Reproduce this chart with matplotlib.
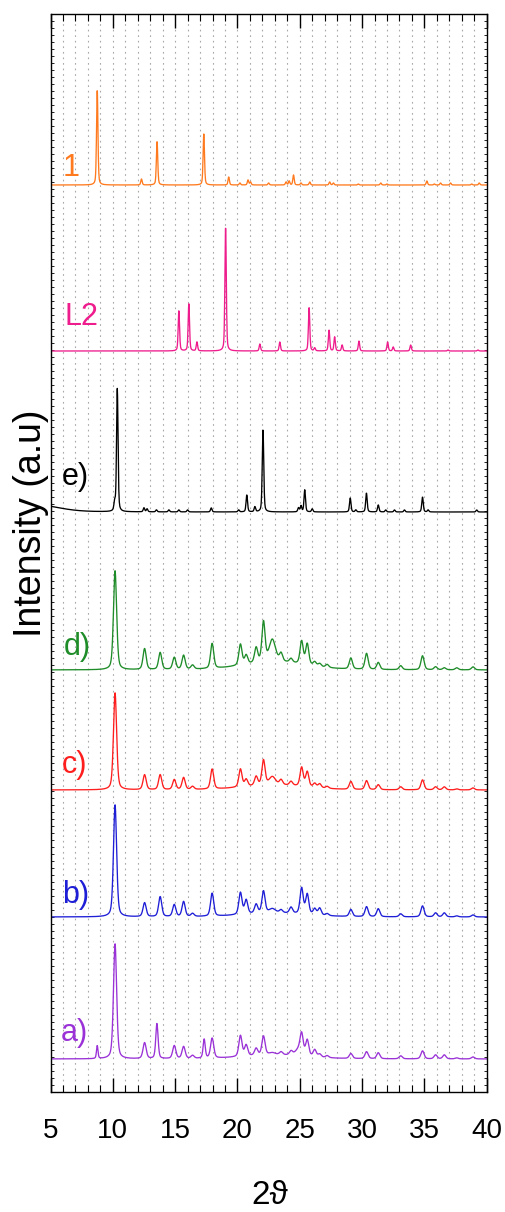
import numpy as np
import matplotlib
matplotlib.use("Agg")
import matplotlib.pyplot as plt
from matplotlib.ticker import MultipleLocator

plt.rcParams['font.family'] = ['Liberation Sans', 'DejaVu Sans']

# ---- diffraction data: peak positions (2theta), heights (a.u.), stacking offsets ----
two_theta = np.arange(5.0, 40.0001, 0.02)

# compound 1
pos_1 = [8.75, 12.3, 13.55, 17.3, 19.3, 20.2, 20.85, 21.05, 22.5, 23.9, 24.15, 24.5, 25.1,
         25.8, 27.4, 27.7, 29.7, 31.5, 32.0, 35.2, 35.8, 36.3, 37.1, 38.8, 39.4]
amp_1 = [96, 6, 44, 51, 8, 2, 5, 3, 2, 3, 4, 10, 2, 3, 3, 2, 1, 2, 1, 4, 1, 2, 2, 1, 2]
wid_1 = 0.13
off_1 = 907

# ligand L2
pos_L2 = [15.3, 16.1, 16.75, 19.05, 21.8, 23.4, 25.75, 26.2, 27.35, 27.8, 28.4, 29.75,
          32.05, 32.5, 33.9, 36.9, 39.3]
amp_L2 = [40, 47, 9, 125, 7, 9, 44, 3, 21, 14, 6, 10, 9, 4, 6, 1, 1]
wid_L2 = 0.13
off_L2 = 741

# sample e
pos_e = [4.0, 10.15, 10.36, 12.5, 12.75, 13.5, 14.5, 15.3, 16.0, 17.9, 20.1, 20.75, 21.4,
         22.05, 24.9, 25.1, 25.4, 26.0, 29.05, 29.5, 30.35, 31.3, 31.9, 32.6, 33.4,
         34.85, 35.3, 39.2]
amp_e = [7, 8, 123, 4, 3, 2, 2, 2, 2, 4, 2, 17, 5, 83, 4, 6, 22, 3, 14, 2, 19, 7, 2, 2, 2,
         15, 2, 2]
wid_e = [4.0] + [0.14] * (len(pos_e) - 1)
off_e = 580

# samples a-d share most reflections (last entry: broad amorphous hump)
pos_common = [10.18, 12.55, 13.8, 14.93, 15.68, 16.4, 17.97, 20.24, 20.7, 21.5, 22.09,
              22.8, 23.5, 24.3, 25.15, 25.6, 26.2, 26.6, 27.2, 29.1, 30.36, 31.3, 33.1,
              34.85, 35.9, 36.6, 37.6, 38.9, 23.0]
wid_common = ([0.3] * 11 + [0.6] + [0.3] * 16) + [6.0]

amp_d = [99, 21, 17, 12, 14, 4, 25, 21, 9, 15, 40, 22, 8, 4, 23, 21, 4, 3, 3, 11, 16,
         7, 4, 14, 3, 2, 2, 3, 8]
off_d = 422

amp_c = [97, 15, 15, 10, 12, 3, 20, 18, 7, 9, 25, 8, 5, 4, 19, 15, 4, 4, 2, 8, 9, 5, 3,
         10, 3, 3, 1, 2, 5]
off_c = 302

amp_b = [112, 14, 20, 12, 15, 3, 23, 22, 14, 9, 22, 4, 3, 6, 26, 20, 6, 7, 2, 7, 10, 8,
         3, 11, 4, 4, 1, 2, 4]
off_b = 175

pos_a = pos_common + [8.75, 13.54, 17.33, 24.9]
wid_a = wid_common + [0.14, 0.22, 0.2, 0.6]
amp_a = [115, 16, 0, 13, 12, 3, 20, 21, 11, 7, 19, 2, 3, 4, 20, 16, 7, 3, 2, 5, 7, 6, 3,
         8, 4, 4, 1, 2, 4, 13, 35, 19, 6]
off_a = 33

labels = ['1', 'L2', 'e)', 'd)', 'c)', 'b)', 'a)']
colors = ['#FF7A1E', '#EE1C8C', '#000000', '#1E8C28', '#FF1E1E', '#1E1ED7', '#9A32D7']
label_x = [5.98, 6.16, 5.9, 6.1, 5.92, 5.92, 5.8]
label_y = [924, 775, 615, 445, 327, 197, 59]


def pattern(pos, amp, wid):
    """Sum of pseudo-Voigt reflections."""
    wid = np.broadcast_to(np.asarray(wid, float), (len(pos),))
    y = np.zeros_like(two_theta)
    for p, a, w in zip(pos, amp, wid):
        g = np.exp(-4 * np.log(2) * ((two_theta - p) / w) ** 2)
        l = 1.0 / (1.0 + 4 * ((two_theta - p) / w) ** 2)
        y += a * (0.6 * g + 0.4 * l)
    return y


traces = [
    (pos_1, amp_1, wid_1, off_1),
    (pos_L2, amp_L2, wid_L2, off_L2),
    (pos_e, amp_e, wid_e, off_e),
    (pos_common, amp_d, wid_common, off_d),
    (pos_common, amp_c, wid_common, off_c),
    (pos_common, amp_b, wid_common, off_b),
    (pos_a, amp_a, wid_a, off_a),
]

fig = plt.figure(figsize=(5.06, 12.12), dpi=100)
ax = fig.add_axes([50.5 / 506, 120 / 1212, 436.2 / 506, 1078 / 1212])

for (pos, amp, wid, off), col, lab, lx, ly in zip(traces, colors, labels, label_x, label_y):
    ax.plot(two_theta, off + pattern(pos, amp, wid), color=col, lw=0.95)
    ax.text(lx, ly, lab, color=col, fontsize=22, ha='left', va='center')

ax.set_xlim(5, 40)
ax.set_ylim(0, 1078)

ax.xaxis.set_major_locator(MultipleLocator(5))
ax.xaxis.set_minor_locator(MultipleLocator(1))
ax.yaxis.set_major_locator(MultipleLocator(1000))
ax.yaxis.set_minor_locator(MultipleLocator(7))
ax.tick_params(axis='x', which='both', direction='in', top=True, bottom=True,
               labelsize=20, pad=19)
ax.tick_params(axis='x', which='major', length=10, width=1.0)
ax.tick_params(axis='x', which='minor', length=5, width=0.8)
ax.tick_params(axis='y', which='both', direction='in', left=True, right=True,
               labelleft=False, length=2, width=0.6)
ax.tick_params(axis='y', which='major', length=0)

ax.grid(True, axis='x', which='both', color='#A8A8A8', lw=0.8,
        linestyle=(0, (1.5, 3.5)))
for s in ax.spines.values():
    s.set_linewidth(1.0)

fig.text(31 / 506, 1 - 523 / 1212, 'Intensity (a.u)', rotation=90,
         ha='center', va='center', fontsize=27)
fig.text(270 / 506, 1 - 1196 / 1212, '2\u03d1', ha='center', va='center', fontsize=24)

fig.savefig('out.png', dpi=100)
